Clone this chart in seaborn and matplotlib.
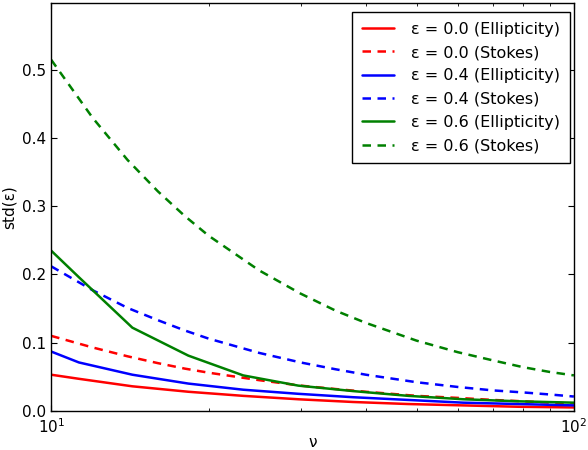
import numpy as np
import pandas as pd
import matplotlib
matplotlib.use("Agg")
import matplotlib.pyplot as plt
from matplotlib.ticker import NullFormatter
import seaborn as sns

# Ellipticity-method curves (sampled at these nu)
nu_ell = [10, 11.3, 14.3, 18.3, 23.3, 29.7, 37.8, 48.2, 61.4, 78.3, 100]
ell_00 = [0.053, 0.047, 0.036, 0.028, 0.022, 0.017, 0.013, 0.010, 0.008, 0.006, 0.005]
ell_04 = [0.087, 0.071, 0.053, 0.040, 0.031, 0.025, 0.020, 0.016, 0.012, 0.010, 0.008]
ell_06 = [0.235, 0.196, 0.122, 0.081, 0.052, 0.037, 0.029, 0.022, 0.017, 0.014, 0.012]

# Stokes-method curves
nu_sto = [10, 12, 14, 16, 18, 20, 25, 30, 35, 40, 50, 60, 70, 80, 90, 100]
sto_00 = [0.110, 0.093, 0.080, 0.070, 0.062, 0.056, 0.045, 0.037, 0.032, 0.028, 0.022, 0.019, 0.016, 0.014, 0.012, 0.011]
sto_04 = [0.212, 0.177, 0.151, 0.133, 0.118, 0.106, 0.085, 0.071, 0.061, 0.053, 0.042, 0.035, 0.030, 0.027, 0.024, 0.021]
sto_06 = [0.515, 0.430, 0.368, 0.322, 0.286, 0.257, 0.206, 0.172, 0.147, 0.129, 0.103, 0.086, 0.074, 0.064, 0.057, 0.052]

series = [
    ("ε = 0.0 (Ellipticity)", nu_ell, ell_00, "red", "-"),
    ("ε = 0.0 (Stokes)", nu_sto, sto_00, "red", "--"),
    ("ε = 0.4 (Ellipticity)", nu_ell, ell_04, "blue", "-"),
    ("ε = 0.4 (Stokes)", nu_sto, sto_04, "blue", "--"),
    ("ε = 0.6 (Ellipticity)", nu_ell, ell_06, "green", "-"),
    ("ε = 0.6 (Stokes)", nu_sto, sto_06, "green", "--"),
]

sns.set_style("white")
plt.rcParams.update({
    "font.family": ["DejaVu Sans"],
    "font.size": 9.5,
    "text.color": "black",
    "axes.labelcolor": "black",
    "xtick.color": "black",
    "ytick.color": "black",
    "xtick.direction": "in",
    "ytick.direction": "in",
    "xtick.top": True,
    "ytick.right": True,
    "xtick.bottom": True,
    "ytick.left": True,
    "xtick.major.size": 4,
    "ytick.major.size": 4,
    "xtick.minor.size": 2,
    "xtick.minor.visible": True,
    "axes.edgecolor": "black",
    "axes.linewidth": 1.0,
    "lines.dashed_pattern": [3.4, 2.6],
})

fig = plt.figure(figsize=(5.88, 4.5), dpi=100)
ax = fig.add_axes([0.087, 0.087, 0.889, 0.906])

for label, x, y, c, ls in series:
    df = pd.DataFrame({"nu": x, "std": y})
    sns.lineplot(data=df, x="nu", y="std", ax=ax, color=c, linestyle=ls,
                 linewidth=1.8, label=label, estimator=None)

ax.set_xscale("log")
ax.set_xlim(10, 100)
ax.xaxis.set_minor_formatter(NullFormatter())
ax.set_ylim(0, 0.598)
ax.set_yticks([0.0, 0.1, 0.2, 0.3, 0.4, 0.5])
ax.set_yticklabels(["0.0", "0.1", "0.2", "0.3", "0.4", "0.5"])
ax.tick_params(axis="both", which="both", direction="in", top=True, right=True,
               labelsize=11, color="black", labelcolor="black")
ax.tick_params(axis="x", which="major", pad=5)
ax.set_xlabel("ν", fontsize=11, labelpad=-1, color="black")
ax.set_ylabel("std(ε)", fontsize=11, color="black")
for s in ax.spines.values():
    s.set_color("black")

leg = ax.legend(loc="upper right", bbox_to_anchor=(0.992, 0.978), borderaxespad=0,
                fontsize=11.5, frameon=True, fancybox=False,
                edgecolor="black", framealpha=1, handlelength=2.0,
                handletextpad=1.1, borderpad=0.6, labelspacing=0.52)
leg.get_frame().set_linewidth(1.0)
for t in leg.get_texts():
    t.set_color("black")

fig.savefig("out.png", dpi=100)
